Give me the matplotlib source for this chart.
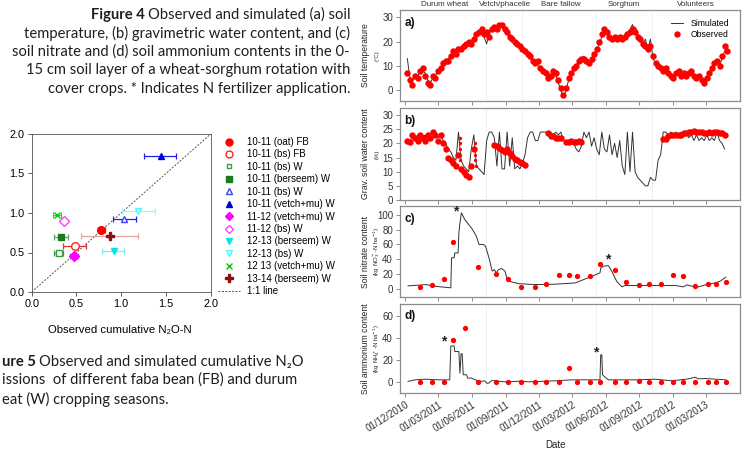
import numpy as np
import pandas as pd
import matplotlib
matplotlib.use('Agg')
import matplotlib.pyplot as plt
import matplotlib.dates as mdates
from matplotlib.lines import Line2D

plt.rcParams['font.family'] = ['Liberation Sans', 'DejaVu Sans']

W, H = 747, 450
CAP_FONT = ['Lato', 'DejaVu Sans']

# ---------------- Figure 5 data (observed vs simulated cumulative N2O-N)
season_labels = ['10-11 (oat) FB', '10-11 (bs) FB', '10-11 (bs) W', '10-11 (berseem) W',
                 '10-11 (bs) W', '10-11 (vetch+mu) W', '11-12 (vetch+mu) W', '11-12 (bs) W',
                 '12-13 (berseem) W', '12-13 (bs) W', '12 13 (vetch+mu) W', '13-14 (berseem) W']
obs_n2o = [0.775, 0.48, 0.31, 0.33, 1.035, 1.44, 0.47, 0.36, 0.915, 1.19, 0.285, 0.87]
sim_n2o = [0.79, 0.585, 0.50, 0.70, 0.93, 1.725, 0.46, 0.90, 0.52, 1.02, 0.975, 0.71]
obs_lo = [0.74, 0.355, 0.25, 0.25, 0.905, 1.25, 0.43, 0.36, 0.79, 1.005, 0.235, 0.55]
obs_hi = [0.82, 0.61, 0.355, 0.41, 1.17, 1.61, 0.52, 0.36, 1.03, 1.38, 0.33, 1.185]

# ---------------- Figure 4 data
# weekly series starting 6 Dec 2010
temp_obs = [7, 4, 2, 6, 5, 8, 9, 6, 3, 2, 6, 5, 8, 9, 11, 12, 12, 14, 16, 15,
            17, 17, 18, 19, 20, 19, 21, 23, 24, 25, 23, 24, 22, 25, 26, 25, 27, 27, 25, 24,
            22, 21, 20, 19, 18, 17, 16, 15, 14, 12, 11, 12, 9, 8, 7, 5, 6, 8, 7, 4,
            1, -2, 1, 5, 7, 9, 10, 12, 13, 13, 12, 11, 13, 15, 17, 20, 23, 25, 24, 22,
            21, 22, 21, 22, 21, 22, 23, 24, 25, 24, 22, 21, 19, 18, 17, 18, 14, 11, 10, 9,
            8, 9, 7, 6, 5, 7, 8, 6, 7, 6, 7, 8, 6, 5, 6, 4, 3, 5, 7, 9,
            11, 12, 10, 14, 18, 16]
temp_sim = [13, 5, 4, 5, 6, 7, 8, 7, 4, 3, 5, 6, 8, 9, 11, 11, 13, 14, 15, 16,
            16, 18, 18, 19, 19, 20, 21, 22, 24, 26, 22, 19, 24, 25, 26, 26, 27, 26, 24, 23,
            22, 21, 20, 19, 18, 16, 16, 14, 13, 12, 11, 11, 9, 8, 7, 6, 6, 7, 6, 3,
            0, -3, 0, 4, 7, 9, 10, 12, 13, 14, 12, 11, 12, 15, 16, 19, 22, 24, 23, 22,
            20, 22, 21, 22, 22, 22, 23, 25, 27, 24, 22, 20, 19, 21, 17, 21, 13, 11, 10, 9,
            8, 8, 7, 6, 6, 6, 7, 6, 6, 6, 6, 7, 6, 5, 5, 4, 4, 5, 7, 9,
            10, 11, 10, 13, 16, 17]
swc_sim = [21, 21, 22, 21, 23, 21, 22, 23, 21, 22, 22, 23, 22, 23, 21, 20, 18, 17, 15, 14,
           24, 14, 12, 11, 10, 18, 23, 12, 11, 10, 9, 21, 24, 24, 22, 12, 24, 11, 11, 24,
           12, 22, 11, 12, 11, 13, 16, 22, 24, 24, 21, 21, 24, 24, 24, 24, 24, 23, 24, 23,
           24, 21, 21, 20, 21, 20, 18, 17, 19, 24, 22, 24, 19, 22, 18, 16, 24, 18, 17, 23,
           16, 20, 15, 21, 12, 9, 24, 10, 24, 10, 8, 7, 6, 5, 5, 8, 7, 7, 14, 16,
           24, 24, 23, 24, 23, 24, 23, 24, 23, 24, 22, 23, 21, 23, 21, 22, 21, 23, 21, 22,
           21, 24, 21, 20, 18]
nan = np.nan
swc_obs = [21, 20.5, 23, 22, 21, 23, 22, 21, 23, 22, 24, 23, 21, 23, 20, 18, 15, 14, 13, 12,
           16, 11, 10, 9, 8, 12, 18, nan, nan, nan, nan, nan, nan, nan, 19.5, 19, 18.5, 17.5, 17, 18,
           16.5, 15.5, 14.5, 14, 13.5, 13, 12.5, nan, nan, nan, nan, nan, nan, nan, nan, 23.5, 22.5, 22.5, 22, 22,
           22, nan, 20.5, 20.5, 21, 20.5, 20.5, 21, 20.5, nan, nan, nan, nan, nan, nan, nan, nan, nan, nan, nan,
           nan, nan, nan, nan, nan, nan, nan, nan, nan, nan, nan, nan, nan, nan, nan, nan, nan, nan, nan, nan,
           21.5, 21.5, 22.5, 23, 23, 23, 23, 23, 23.5, 23.5, 24, 24, 24.5, 24, 24, 24, 23.5, 23.5, 24, 23.5,
           24, 24, 23.5, 23.5, 23]
# extra water-content samples forming the vertical streaks (days since 1 Dec 2010)
swc_extra_day = [149, 149, 149, 150, 150, 190, 190, 191, 191, 192]
swc_extra = [22, 20, 18, 16, 14, 20, 18, 16, 14, 12]

# days since 1 Dec 2010
no3_obs_day = [41, 73, 106, 129, 197, 247, 281, 316, 355, 383, 419, 446, 470, 506, 533,
               572, 603, 638, 667, 700, 731, 758, 792, 827, 848, 877]
no3_obs = [2.3, 5, 13.5, 63, 29, 20, 14, 2, 2.7, 6.8, 19, 19.4, 17, 18, 34,
           25, 9, 5.4, 5.9, 5.9, 18.5, 18, 3.2, 7.2, 7.2, 9]
no3_sim_day = [7, 57, 80, 124, 126, 133, 135, 144, 146, 149, 153, 162, 181, 194, 201, 213,
               219, 226, 231, 236, 238, 243, 249, 254, 263, 272, 277, 286, 309, 354, 409,
               464, 500, 532, 534, 541, 555, 564, 578, 592, 601, 683, 738, 760, 770, 783,
               802, 820, 847, 861, 876]
no3_sim = [4, 5.8, 3.5, 1.4, 42, 42, 48.6, 48.6, 75.7, 89, 102.7, 93.7, 82, 71, 60, 60,
           57.6, 46, 37, 26, 24, 26, 21.6, 26, 27.5, 24, 15, 10, 7, 5.8, 6.3,
           8, 15, 21.6, 28, 30.6, 31.5, 24, 10, 2.7, 4.5, 4.5, 4.5, 2.7, 5.4, 3.6,
           2.7, 5.4, 8.1, 10.4, 15.8]

nh4_obs_day = [41, 73, 106, 129, 163, 197, 247, 281, 316, 355, 383, 419, 446, 470, 506,
               533, 572, 603, 638, 667, 700, 731, 758, 792, 827, 848, 877]
nh4_obs = [0, 0, 0, 38, 49, 0.5, 0, 0, 0.5, 0.3, 0.5, 0, 13.5, 0, 0,
           0, 0, 0, 1.2, 0, 0.3, 0, 0, 0, 0.5, 0, 0]
nh4_sim_day = [7, 26, 53, 89, 121, 124, 133, 135, 146, 149, 152, 155, 158, 167, 170, 181,
               190, 208, 217, 222, 228, 236, 272, 318, 336, 409, 455, 500, 532, 534, 537,
               539, 544, 555, 637, 683, 729, 774, 792, 802, 820, 847, 876]
nh4_sim = [1, 2.4, 3, 2.4, 2.4, 33, 33, 28, 28, 8.4, 26, 26, 7, 7, 4, 4,
           2.4, 1, 1.5, -0.6, -0.6, 1.8, 0.6, 1.2, 0.6, 1.5, 2.4, 2.4, 2.4, 25, 25,
           7, 5.4, 2.4, 2.4, 3, 1.5, 3.3, 4.8, 3.3, 3.6, 3, 2.4]

crop_names = ['Durum wheat', 'Vetch/phacelie', 'Bare fallow', 'Sorghum', 'Volunteers']
crop_label_dates = ['2011-03-18', '2011-08-30', '2012-01-30', '2012-07-21', '2013-02-02']
period_breaks = ['2011-07-10', '2011-10-15', '2012-05-04', '2012-10-05']
fert_c = [('2011-04-18', 105), ('2012-06-05', 40)]
fert_d = [('2011-03-16', 37), ('2012-05-05', 27)]

start = pd.Timestamp('2010-12-01')


def weekly(vals):
    return pd.date_range('2010-12-06', periods=len(vals), freq='7D')


def days(d):
    return start + pd.to_timedelta(d, unit='D')


fig = plt.figure(figsize=(W / 100, H / 100), dpi=100)


def fax(x0, y0, x1, y1):
    return fig.add_axes([x0 / W, 1 - y1 / H, (x1 - x0) / W, (y1 - y0) / H])


# ---------------- captions
fig.canvas.draw()
rend = fig.canvas.get_renderer()
cap_size = 10.6
cap_col = '#1e1e1e'
cap4 = ['temperature, (b) gravimetric water content, and (c)',
        'soil nitrate and (d) soil ammonium contents in the 0-',
        '15 cm soil layer of a wheat-sorghum rotation with',
        'cover crops. * Indicates N fertilizer application.']
t = fig.text(350 / W, 1 - 15 / H, 'Observed and simulated (a) soil', ha='right', va='center',
             fontsize=cap_size, family=CAP_FONT, color=cap_col)
bb = t.get_window_extent(rend)
fig.text((bb.x0 - 3) / W, 1 - 15 / H, 'Figure 4', ha='right', va='center', fontsize=cap_size,
         family=CAP_FONT, weight='bold', color=cap_col)
for i, line in enumerate(cap4):
    fig.text(350 / W, 1 - (33.3 + 18.4 * i) / H, line, ha='right', va='center',
             fontsize=cap_size, family=CAP_FONT, color=cap_col)

t = fig.text(1.7 / W, 1 - 362 / H, 'ure 5', ha='left', va='center', fontsize=cap_size,
             family=CAP_FONT, weight='bold', color=cap_col)
bb = t.get_window_extent(rend)
fig.text((bb.x1 + 3) / W, 1 - 362 / H, 'Observed and simulated cumulative N\u2082O', ha='left',
         va='center', fontsize=cap_size, family=CAP_FONT, color=cap_col)
fig.text(1.7 / W, 1 - 380 / H, 'issions  of different faba bean (FB) and durum', ha='left',
         va='center', fontsize=cap_size, family=CAP_FONT, color=cap_col)
fig.text(1.7 / W, 1 - 399 / H, 'eat (W) cropping seasons.', ha='left',
         va='center', fontsize=cap_size, family=CAP_FONT, color=cap_col)

# ---------------- Figure 5 scatter
marks = ['o', 'o', 's', 's', '^', '^', 'D', 'D', 'v', 'v', 'x', 'P']
edge = ['#ff0000', '#ff2020', '#3c9c3c', '#1e7a1e', '#4040ff', '#0000dd', '#ff00ff', '#ff40ff',
        '#00e5ee', '#40ffff', '#00cc00', '#8b1010']
face = ['#ff0000', 'white', 'white', '#1e7a1e', 'white', '#0000dd', '#ff00ff', 'white',
        '#00e5ee', 'white', '#00cc00', '#8b1010']
ecol = ['#e02020', '#e03030', '#3c9c3c', '#5aa85a', '#2020ee', '#2020ee', '#ff40ff', '#ff40ff',
        '#70f0f0', '#a0f5f5', '#30d030', '#e8a0a0']
msize = [5.5, 5.5, 4, 4.5, 5, 5, 5, 5, 5, 5, 5, 6]

ax5 = fax(31.7, 134, 210.7, 292)
ax5.plot([0, 2], [0, 2], color='#555555', lw=0.7, ls=(0, (2, 1.5)))
for i in range(len(obs_n2o)):
    xe = [[obs_n2o[i] - obs_lo[i]], [obs_hi[i] - obs_n2o[i]]]
    ax5.errorbar(obs_n2o[i], sim_n2o[i], xerr=xe, fmt='none', ecolor=ecol[i], elinewidth=0.9,
                 capsize=2.5, capthick=0.9)
    ax5.plot(obs_n2o[i], sim_n2o[i], marks[i], ms=msize[i], mfc=face[i], mec=edge[i],
             mew=1.0)
ax5.set_xlim(0, 2)
ax5.set_ylim(0, 2)
ticks5 = [0.0, 0.5, 1.0, 1.5, 2.0]
ax5.set_xticks(ticks5)
ax5.set_yticks(ticks5)
ax5.set_xticklabels(['%.1f' % v for v in ticks5])
ax5.set_yticklabels(['%.1f' % v for v in ticks5])
ax5.tick_params(labelsize=7.8, length=3, width=0.6, color='#444444', pad=2)
for s in ax5.spines.values():
    s.set_color('#555555')
    s.set_linewidth(0.6)
fig.text(120 / W, 1 - 330 / H, 'Observed cumulative N\u2082O-N', ha='center', va='center',
         fontsize=8.2)

handles = [Line2D([], [], ls='none', marker=marks[i], ms=msize[i] - 0.5, mfc=face[i],
                  mec=edge[i], mew=1.0) for i in range(len(obs_n2o))]
handles.append(Line2D([], [], color='#555555', lw=0.7, ls=(0, (2, 1.5))))
fig.legend(handles, season_labels + ['1:1 line'], loc='upper left',
           bbox_to_anchor=(218 / W, 1 - 137 / H), frameon=False, fontsize=7.0,
           handlelength=2.3, handletextpad=0.7, labelspacing=0.25, borderpad=0,
           borderaxespad=0)

# ---------------- Figure 4 panels
x0, x1 = 400, 740
panels = [fax(x0, 10, x1, 101), fax(x0, 108, x1, 200), fax(x0, 206, x1, 297),
          fax(x0, 304, x1, 393)]
ax_a, ax_b, ax_c, ax_d = panels

sim_kw = dict(color='#333333', lw=0.7)
obs_kw = dict(ls='none', marker='o', ms=4.6, color='#ff0000', mec='none')
pt_kw = dict(ls='none', marker='o', ms=3.8, color='#ff0000', mec='none')

ax_a.plot(weekly(temp_sim), temp_sim, label='Simulated', **sim_kw)
ax_a.plot(weekly(temp_obs), temp_obs, label='Observed', **obs_kw)
ax_b.plot(weekly(swc_sim), swc_sim, **sim_kw)
ax_b.plot(weekly(swc_obs), swc_obs, **obs_kw)
ax_b.plot(days(swc_extra_day), swc_extra, ls='none', marker='o', ms=2.4, color='#ff0000',
          mec='none')
ax_c.plot(days(no3_sim_day), no3_sim, **sim_kw)
ax_c.plot(days(no3_obs_day), no3_obs, **pt_kw)
ax_d.plot(days(nh4_sim_day), nh4_sim, **sim_kw)
ax_d.plot(days(nh4_obs_day), nh4_obs, **pt_kw)

ax_a.set_ylim(-4.5, 33)
ax_a.set_yticks([0, 10, 20, 30])
ax_b.set_ylim(0, 32.5)
ax_b.set_yticks([0, 5, 10, 15, 20, 25, 30])
ax_c.set_ylim(-11, 112)
ax_c.set_yticks([0, 20, 40, 60, 80, 100])
ax_d.set_ylim(-9.5, 71)
ax_d.set_yticks([0, 20, 40, 60])

xticks = pd.date_range('2010-12-01', '2013-03-01', freq='3MS')
for ax, lab in zip(panels, ['a)', 'b)', 'c)', 'd)']):
    ax.set_xlim(pd.Timestamp('2010-11-16'), pd.Timestamp('2013-06-03'))
    ax.set_xticks(xticks)
    for d in period_breaks:
        ax.axvline(pd.Timestamp(d), color='#dcdcdc', lw=0.6, ls=(0, (1, 1)), zorder=0)
    for s in ax.spines.values():
        s.set_color('#8c8c8c')
        s.set_linewidth(0.9)
    ax.tick_params(labelsize=7, length=3, width=0.7, color='#8c8c8c', labelcolor='#333333',
                   pad=2)
    ax.text(0.013, 0.86, lab, transform=ax.transAxes, fontsize=8.5, weight='bold',
            va='center', color='#111111')
    if ax is not ax_d:
        ax.set_xticklabels([])

ax_d.xaxis.set_major_formatter(mdates.DateFormatter('%d/%m/%Y'))
plt.setp(ax_d.get_xticklabels(), rotation=32, ha='right', rotation_mode='anchor')

for name, d in zip(crop_names, crop_label_dates):
    ax_a.text(pd.Timestamp(d), 1.058, name, transform=ax_a.get_xaxis_transform(),
              ha='center', va='center', fontsize=5.8, color='#333333')

for d, v in fert_c:
    ax_c.text(pd.Timestamp(d), v, '*', ha='center', va='center', fontsize=10, weight='bold',
              color='#222222')
for d, v in fert_d:
    ax_d.text(pd.Timestamp(d), v, '*', ha='center', va='center', fontsize=10, weight='bold',
              color='#222222')

ax_a.legend(loc='upper right', bbox_to_anchor=(0.985, 0.97), frameon=False, fontsize=6.2,
            handlelength=1.4, handletextpad=0.8, labelspacing=0.25, borderpad=0.2)

ylabels = [('Soil temperature', '(\u00b0C)', 55.5),
           ('Grav. soil water content', '(%)', 154),
           ('Soil nitrate content', '(kg NO$_3^-$-N ha$^{-1}$)', 251.5),
           ('Soil ammonium content', '(kg NH$_4^+$-N ha$^{-1}$)', 348.5)]
for main, unit, yc in ylabels:
    fig.text(365 / W, 1 - yc / H, main, rotation=90, ha='center', va='center', fontsize=6.2,
             color='#222222')
    fig.text(377 / W, 1 - yc / H, unit, rotation=90, ha='center', va='center', fontsize=4.3,
             color='#222222')

fig.text(555 / W, 1 - 445 / H, 'Date', ha='center', va='center', fontsize=7, color='#222222')

fig.savefig('out.png', dpi=100)
